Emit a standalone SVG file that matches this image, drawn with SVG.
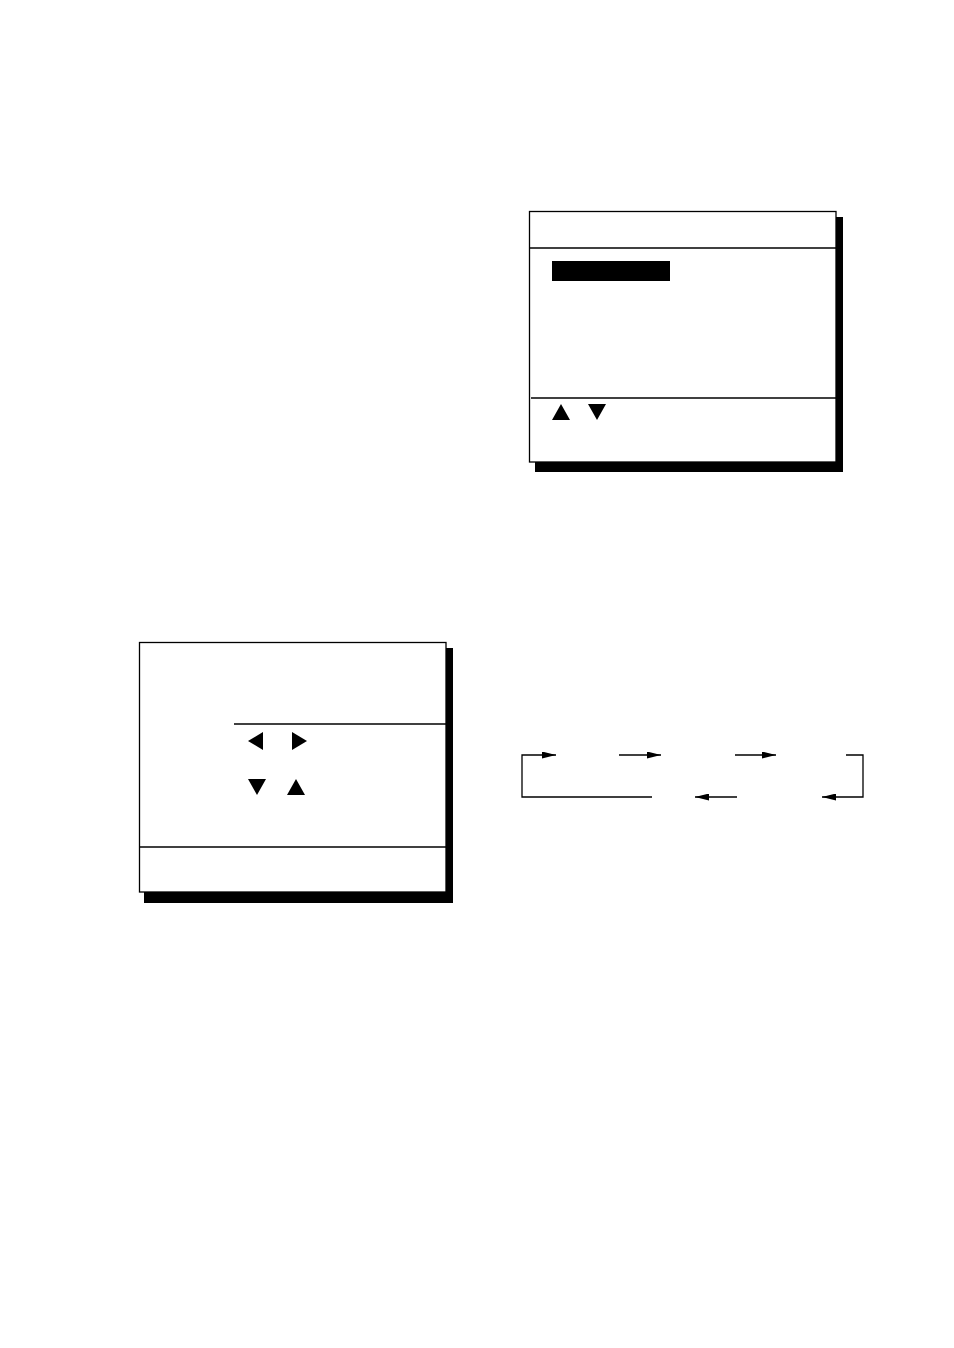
<svg xmlns="http://www.w3.org/2000/svg" width="954" height="1348" viewBox="0 0 954 1348">
<style>
.box{fill:#fff;stroke:#000;stroke-width:1.3}
.shadow{fill:#000}
.ln{stroke:#000;stroke-width:1.3;fill:none}
.tri{fill:#000}
</style>
<defs>
<marker id="ah" markerWidth="14" markerHeight="7" refX="14" refY="3.5" orient="auto" markerUnits="userSpaceOnUse">
<path d="M0,0 L14,3.5 L0,7 Z" fill="#000"/>
</marker>
</defs>
<rect width="954" height="1348" fill="#fff"/>
<g id="menu-box">
<rect class="shadow" x="535" y="217" width="308" height="255"/>
<rect class="box" x="529.5" y="211.5" width="306.5" height="250.5"/>
<line class="ln" x1="530" y1="248" x2="836" y2="248"/>
<rect class="tri" x="552" y="261" width="118" height="20"/>
<line class="ln" x1="531" y1="398" x2="836" y2="398"/>
<polygon class="tri" points="552,420 570,420 561,404"/>
<polygon class="tri" points="588,404 606,404 597,420"/>
</g>
<g id="setting-box">
<rect class="shadow" x="144" y="648" width="309" height="255"/>
<rect class="box" x="139.5" y="642.5" width="306.5" height="249.5"/>
<line class="ln" x1="234" y1="724" x2="446" y2="724"/>
<polygon class="tri" points="248,741 263,732 263,750"/>
<polygon class="tri" points="292,732 307,741 292,750"/>
<polygon class="tri" points="248,779 266,779 257,795"/>
<polygon class="tri" points="287,795 305,795 296,779"/>
<line class="ln" x1="140" y1="847" x2="446" y2="847"/>
</g>
<g id="connectors">
<polyline class="ln" points="652,797 522,797 522,755 556,755" marker-end="url(#ah)"/>
<line class="ln" x1="619" y1="755" x2="661" y2="755" marker-end="url(#ah)"/>
<line class="ln" x1="735" y1="755" x2="776" y2="755" marker-end="url(#ah)"/>
<polyline class="ln" points="846,755 863,755 863,797 822,797" marker-end="url(#ah)"/>
<line class="ln" x1="737" y1="797" x2="695" y2="797" marker-end="url(#ah)"/>
</g>
</svg>
